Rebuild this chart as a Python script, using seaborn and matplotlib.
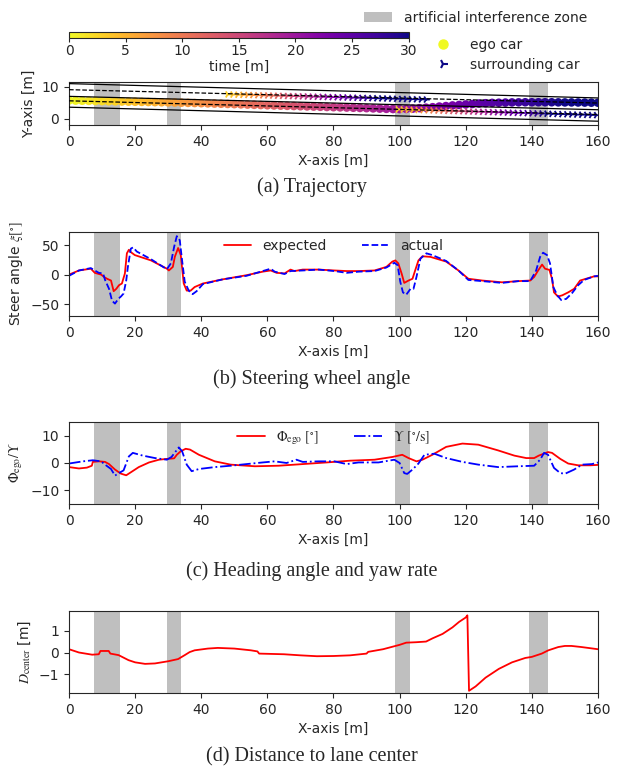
import numpy as np
import pandas as pd
import matplotlib
matplotlib.use("Agg")
import matplotlib.pyplot as plt
import seaborn as sns
from matplotlib.lines import Line2D
from matplotlib.patches import Patch

# ---------------- data ----------------
zones = [(7.5, 15.5), (29.5, 34.0), (98.5, 103.0), (139.0, 145.0)]

# lane markings (x endpoints, y endpoints)
lane_x = [0, 160]
edge_top = [11.0, 6.5]
center_up = [9.1, 4.9]
divider = [7.0, 2.8]
center_low = [5.6, 1.3]
edge_bot = [3.6, -0.8]

ego_x = [0, 2, 4, 6, 8, 10, 12, 14, 16, 18, 20, 22, 24, 26, 28, 30, 32, 34, 36, 38,
         40, 42, 44, 46, 48, 50, 52, 54, 56, 58, 60, 62, 64, 66, 68, 70, 72, 74, 76, 78,
         80, 82, 84, 86, 88, 90, 92, 94, 96, 98, 100, 102, 104, 106, 108, 110, 112, 114,
         116, 118, 120, 122, 124, 126, 128, 130, 132, 134, 136, 138, 140, 142, 144, 146,
         148, 150, 152, 154, 156, 158, 160]
ego_y = [5.7, 5.66, 5.62, 5.58, 5.54, 5.5, 5.46, 5.42, 5.38, 5.34, 5.3, 5.26, 5.22, 5.18,
         5.14, 5.1, 5.05, 5.0, 4.95, 4.9, 4.85, 4.79, 4.73, 4.67, 4.61, 4.55, 4.48, 4.41,
         4.34, 4.27, 4.2, 4.14, 4.08, 4.02, 3.96, 3.9, 3.84, 3.78, 3.72, 3.66, 3.6, 3.54,
         3.48, 3.42, 3.36, 3.3, 3.22, 3.15, 3.08, 3.02, 3.0, 3.05, 3.15, 3.3, 3.45, 3.6,
         3.8, 3.95, 4.15, 4.3, 4.45, 4.6, 4.75, 4.85, 4.95, 5.0, 5.05, 5.1, 5.12, 5.15,
         5.15, 5.15, 5.15, 5.15, 5.12, 5.1, 5.1, 5.08, 5.05, 5.02, 5.0]
ego_t = [0, 0.4, 0.8, 1.2, 1.6, 2, 2.4, 2.8, 3.2, 3.6, 4, 4.4, 4.8, 5.2, 5.6, 6, 6.4, 6.8,
         7.2, 7.6, 8, 8.4, 8.8, 9.2, 9.6, 10, 10.4, 10.8, 11.2, 11.6, 12, 12.4, 12.8, 13.2,
         13.6, 14, 14.4, 14.8, 15.2, 15.6, 16, 16.4, 16.8, 17.2, 17.6, 18, 18.4, 18.8, 19.2,
         19.6, 20, 20.4, 20.8, 21.2, 21.6, 22, 22.4, 22.8, 23.2, 23.6, 24, 24.4, 24.8, 25.2,
         25.6, 26, 26.4, 26.8, 27.2, 27.6, 28, 28.4, 28.8, 29.2, 29.6, 30, 30, 30, 30, 30, 30]

car_t = [3.0, 3.9, 4.8, 5.7, 6.6, 7.5, 8.4, 9.3, 10.2, 11.1, 12.0, 12.9, 13.8, 14.7, 15.6,
         16.5, 17.4, 18.3, 19.2, 20.1, 21.0, 21.9, 22.8, 23.7, 24.6, 25.5, 26.4, 27.3, 28.2,
         29.1, 30, 30, 30, 30, 30, 30, 30, 30, 30, 30, 30]
car1_x = [48, 49.5, 51, 52.5, 54, 55.5, 57, 58.5, 60, 61.5, 63, 64.5, 66, 67.5, 69, 70.5,
          72, 73.5, 75, 76.5, 78, 79.5, 81, 82.5, 84, 85.5, 87, 88.5, 90, 91.5, 93, 94.5,
          96, 97.5, 99, 100.5, 102, 103.5, 105, 106.5, 108]
car1_y = [7.6, 7.56, 7.52, 7.48, 7.44, 7.4, 7.36, 7.32, 7.28, 7.24, 7.2, 7.16, 7.12, 7.08,
          7.04, 7.0, 6.96, 6.92, 6.88, 6.84, 6.8, 6.76, 6.72, 6.68, 6.64, 6.6, 6.56, 6.52,
          6.48, 6.44, 6.4, 6.36, 6.32, 6.28, 6.24, 6.2, 6.16, 6.12, 6.08, 6.04, 6.0]
car2_x = [99.5, 101, 102.5, 104, 105.5, 107, 108.5, 110, 111.5, 113, 114.5, 116, 117.5, 119,
          120.5, 122, 123.5, 125, 126.5, 128, 129.5, 131, 132.5, 134, 135.5, 137, 138.5, 140,
          141.5, 143, 144.5, 146, 147.5, 149, 150.5, 152, 153.5, 155, 156.5, 158, 159.5]
car2_y = [2.9, 2.86, 2.81, 2.77, 2.72, 2.68, 2.63, 2.59, 2.54, 2.5, 2.45, 2.41, 2.36, 2.32,
          2.27, 2.23, 2.18, 2.14, 2.09, 2.05, 2.0, 1.96, 1.91, 1.87, 1.82, 1.78, 1.73, 1.69,
          1.64, 1.6, 1.55, 1.51, 1.46, 1.42, 1.37, 1.33, 1.28, 1.24, 1.19, 1.15, 1.1]

steer_exp_x = [0, 3, 6.6, 7.8, 9.7, 10.6, 11.5, 12.7, 13.5, 14.3, 15.1, 16, 16.9, 17.5, 18.1,
               18.7, 19.9, 24.8, 29.6, 30.2, 31.4, 32, 33, 33.8, 34.7, 35.6, 36.8, 38, 40.5,
               46.5, 53.7, 58.6, 61, 62.8, 65.2, 67, 68.2, 70.7, 75.5, 80.3, 84, 87.6, 92.4,
               96, 97.8, 98.7, 99.6, 100.6, 101.4, 102.7, 103.9, 104.7, 105.7, 106.9, 109.3,
               114.1, 117.8, 120.8, 125, 131, 135.9, 139.5, 140.7, 141.9, 143.1, 144, 145.3,
               146.1, 146.7, 147.9, 149.2, 151, 152.8, 154.6, 156.4, 158.8, 160]
steer_exp = [0, 7, 10, 3, 0, -4, -7, -10, -28, -24, -18, -15, 2, 36, 42, 38, 33, 24, 10, 7,
             13, 30, 45, 33, -15, -27, -27, -21, -15, -8, -1, 5, 7, 3, 2, 8.5, 6, 8.5, 8.5,
             7, 6, 6, 7, 13, 22, 24, 19, 2, -14, -10, -7, 7, 24, 31, 30, 22, 7, -7, -10,
             -13, -11, -10, -4, 7, 17, 10, 8, -7, -30, -37, -35, -30, -24, -10, -7, -3, -3]
steer_act_x = [0, 3, 6.6, 7.8, 9, 10.3, 10.9, 12.1, 13, 13.9, 14.9, 15.7, 16.5, 17.3, 17.8,
               18.7, 19.4, 20.5, 24.8, 29.6, 30.8, 31.8, 32.6, 33.5, 34.2, 35, 36.2, 37.4,
               38.6, 40.5, 46.5, 53.7, 58.6, 61, 62.2, 65.2, 67, 70.7, 75.5, 80.3, 84, 87.6,
               92.4, 96, 98.4, 99.4, 100.2, 101, 102, 103.3, 104.2, 105.1, 106.3, 108.1,
               109.9, 114.1, 117.8, 120.8, 125, 131, 135.9, 139.5, 141.3, 142.5, 143.4, 144.6,
               145.5, 146.5, 147.7, 148.9, 150.4, 152.2, 154, 155.8, 158.8, 160]
steer_act = [-2, 7, 11, 7, 3, 2, -9, -24, -44, -49, -41, -37, -32, -10, 13, 44, 46, 39, 26,
             9, 19, 47, 65, 58, 24, -12, -27, -33, -28, -16, -8, -2, 6, 10, 5, 1, 6, 7, 8.5,
             6, 3, 5, 6, 12, 20, 16, -12, -30, -34, -24, -24, -4, 27, 36, 33, 23, 7, -9, -11,
             -14, -11, -11, 7, 30, 37, 33, 19, -21, -35, -43, -41, -31, -18, -9, -3, -2]

head_x = [0, 3, 5.4, 6.9, 7.2, 9.1, 10.9, 12.1, 13.9, 15.7, 17.3, 18.7, 21.1, 24.2, 27.2,
          29.6, 31.8, 32.6, 33.8, 35.3, 36.6, 39.3, 44.1, 48.9, 56.2, 63.4, 70.7, 77.9,
          85.1, 92.4, 97.8, 100.8, 102.7, 105.1, 106.9, 109.9, 114.1, 119, 123.8, 129.8,
          134.7, 138.3, 140.7, 142.1, 144.9, 146.1, 148.6, 151, 154, 157.6, 160]
heading = [-1.5, -2, -1.7, -1, 0.4, 0.6, 0.4, -0.4, -2.4, -3.9, -4.5, -3.4, -1.5, 0.2, 1.2,
           1.5, 1.7, 3, 4.3, 5.2, 4.9, 3, 0.6, -0.6, -1.2, -1, -0.4, 0.2, 0.85, 1.2, 2.2,
           3.0, 1.8, 0.6, 1.2, 3, 5.9, 7.1, 6.7, 4.6, 2.7, 1.8, 1.8, 2.7, 4, 3.7, 1.5, -0.2,
           -0.85, -0.85, -0.7]
yaw_x = [0, 4.2, 7.2, 9.7, 10.9, 12.7, 13.9, 15.1, 16.5, 18.1, 19.3, 22.3, 26, 29.6, 31,
         33.2, 34.2, 35.6, 37.1, 39.3, 44.1, 48.9, 53.7, 58.6, 62.2, 65.8, 68.8, 70.7, 75.5,
         80.3, 84, 87.6, 93.6, 98.4, 100, 101.4, 102.3, 103.9, 105.7, 107.5, 110.5, 114.1,
         119, 123.8, 129.8, 135.9, 140.7, 142.5, 143.7, 144.9, 146.7, 148.6, 150.1, 152.8,
         155.2, 158.2, 160]
yaw = [-0.2, 0.6, 1, 0.6, -0.6, -2.2, -4.6, -3.7, -2.7, 2.4, 3.7, 2.7, 1.8, 1.2, 2.2, 5.7,
       4.3, -0.6, -3, -2.2, -1.5, -1, -0.4, 0.2, 0.6, 0, 1.2, 0.4, 0.6, 0.6, -0.4, 0.2, 0.2,
       1.2, 0, -3.7, -4, -2.4, -0.2, 3, 3.4, 1.8, 0.4, -0.6, -1.5, -1.2, -1, 1.2, 3.7, 3,
       -1.8, -3.7, -3.9, -2.4, -0.6, -0.4, 0.2]

dist_x = [0, 3, 7, 9, 9.5, 12, 12.5, 15, 18, 20, 23, 26, 30, 33, 35, 36.5, 38, 42, 45, 50,
          55, 57, 57.5, 65, 70, 75, 80, 85, 90, 90.5, 95, 100, 102, 105, 108, 110, 113, 116,
          118, 120, 120.5, 121, 123, 126, 130, 134, 138, 140, 143, 145, 148, 150, 152, 155,
          160]
dist = [0.15, 0.0, -0.1, -0.08, 0.07, 0.07, -0.05, -0.12, -0.35, -0.45, -0.52, -0.5, -0.4,
        -0.3, -0.12, 0.02, 0.1, 0.18, 0.21, 0.18, 0.1, 0.05, -0.05, -0.08, -0.13, -0.17,
        -0.16, -0.13, -0.05, 0.03, 0.15, 0.35, 0.45, 0.47, 0.5, 0.65, 0.85, 1.15, 1.4, 1.6,
        1.7, -1.75, -1.55, -1.15, -0.75, -0.45, -0.25, -0.2, -0.05, 0.1, 0.25, 0.3, 0.3,
        0.25, 0.15]

# ---------------- style ----------------
sns.set_style("ticks")
plt.rcParams["font.family"] = ["DejaVu Sans"]
plt.rcParams["mathtext.fontset"] = "stix"
plt.rcParams["font.size"] = 10
plt.rcParams["axes.labelsize"] = 10
plt.rcParams["xtick.labelsize"] = 10
plt.rcParams["ytick.labelsize"] = 10
plt.rcParams["legend.fontsize"] = 10

cmap = "plasma_r"
zone_color = "gray"

fig = plt.figure(figsize=(6.23, 7.68), dpi=100)
left, width = 0.1108, 0.849
ax_a = fig.add_axes([left, 0.8372, width, 0.056])
ax_b = fig.add_axes([left, 0.5885, width, 0.1094])
ax_c = fig.add_axes([left, 0.34375, width, 0.1068])
ax_d = fig.add_axes([left, 0.0977, width, 0.1068])

for ax in (ax_a, ax_b, ax_c, ax_d):
    for z0, z1 in zones:
        ax.axvspan(z0, z1, color=zone_color, alpha=0.5, lw=0, zorder=0)
    ax.set_xlim(0, 160)
    ax.set_xticks(range(0, 161, 20))
    ax.set_xlabel("X-axis [m]")

# (a) trajectory
ego = pd.DataFrame({"x": ego_x, "y": ego_y, "t": ego_t})
car1 = pd.DataFrame({"x": car1_x, "y": car1_y, "t": car_t})
car2 = pd.DataFrame({"x": car2_x, "y": car2_y, "t": car_t})
sns.scatterplot(data=ego, x="x", y="y", hue="t", palette=cmap, hue_norm=(0, 30),
                s=38, linewidth=0, legend=False, ax=ax_a, zorder=2)
for car in (car1, car2):
    sns.scatterplot(data=car, x="x", y="y", hue="t", palette=cmap, hue_norm=(0, 30),
                    marker="4", s=30, linewidth=1.3, legend=False, ax=ax_a, zorder=3)
for ys, ls in [(edge_top, "-"), (center_up, "--"), (divider, "-"),
               (center_low, "--"), (edge_bot, "-")]:
    sns.lineplot(x=lane_x, y=ys, color="black", linestyle=ls, lw=0.9, ax=ax_a, zorder=4)
ax_a.set_ylim(-2, 11.5)
ax_a.set_yticks([0, 10])
ax_a.set_ylabel("Y-axis [m]")

# (b) steering wheel angle
sns.lineplot(x=steer_exp_x, y=steer_exp, color="red", lw=1.3, sort=False,
             label="expected", ax=ax_b)
sns.lineplot(x=steer_act_x, y=steer_act, color="blue", lw=1.3, linestyle="--",
             sort=False, label="actual", ax=ax_b)
ax_b.set_ylim(-70, 72)
ax_b.set_yticks([-50, 0, 50])
ax_b.set_ylabel(r"Steer angle $\xi[^{\circ}]$")
ax_b.legend(loc="upper center", ncol=2, frameon=False, columnspacing=2.5,
            borderaxespad=0.1)

# (c) heading angle and yaw rate
sns.lineplot(x=head_x, y=heading, color="red", lw=1.3, sort=False,
             label=r"$\Phi_{\rm ego}\ [^{\circ}]$", ax=ax_c)
sns.lineplot(x=yaw_x, y=yaw, color="blue", lw=1.3, linestyle="-.", sort=False,
             label=r"$\Upsilon\ [^{\circ}/{\rm s}]$", ax=ax_c)
ax_c.set_ylim(-15, 15)
ax_c.set_yticks([-10, 0, 10])
ax_c.set_ylabel(r"$\Phi_{\rm ego}/\Upsilon$")
ax_c.legend(loc="upper center", ncol=2, frameon=False, columnspacing=2.5,
            borderaxespad=0.1)

# (d) distance to lane center
sns.lineplot(x=dist_x, y=dist, color="red", lw=1.3, sort=False, ax=ax_d)
ax_d.set_ylim(-1.85, 1.9)
ax_d.set_yticks([-1, 0, 1])
ax_d.set_ylabel(r"$D_{\rm center}$ [m]")

# colorbar for time
cax = fig.add_axes([0.1108, 0.9505, 0.545, 0.0078])
sm = plt.cm.ScalarMappable(norm=plt.Normalize(0, 30), cmap=cmap)
cb = fig.colorbar(sm, cax=cax, orientation="horizontal")
cb.set_ticks([0, 5, 10, 15, 20, 25, 30])
cb.ax.tick_params(length=3, pad=1.5)
cb.set_label("time [m]", labelpad=1)

# legends at the top
fig.legend(handles=[Patch(facecolor=zone_color, alpha=0.5, edgecolor="none")],
           labels=["artificial interference zone"], loc="upper left",
           bbox_to_anchor=(0.5650, 1.0021), frameon=False, handlelength=2.0,
           handletextpad=0.85)
fig.legend(handles=[Line2D([], [], ls="none", marker="o", color="#f0f921", markersize=6.5),
                    Line2D([], [], ls="none", marker="4", color="#0d0887", markersize=7,
                           mew=1.5)],
           labels=["ego car", "surrounding car"], loc="upper left",
           bbox_to_anchor=(0.6742, 0.9669), frameon=False, handlelength=1.5,
           handletextpad=1.2, labelspacing=0.45)

# sub-captions
captions = [("(a) Trajectory", 187), ("(b) Steering wheel angle", 379),
            ("(c) Heading angle and yaw rate", 571), ("(d) Distance to lane center", 757)]
for txt, ypx in captions:
    fig.text(0.5, 1 - ypx / 768, txt, ha="center", va="center",
             family="Liberation Serif", fontsize=14.5)

fig.savefig("out.png", dpi=100)
